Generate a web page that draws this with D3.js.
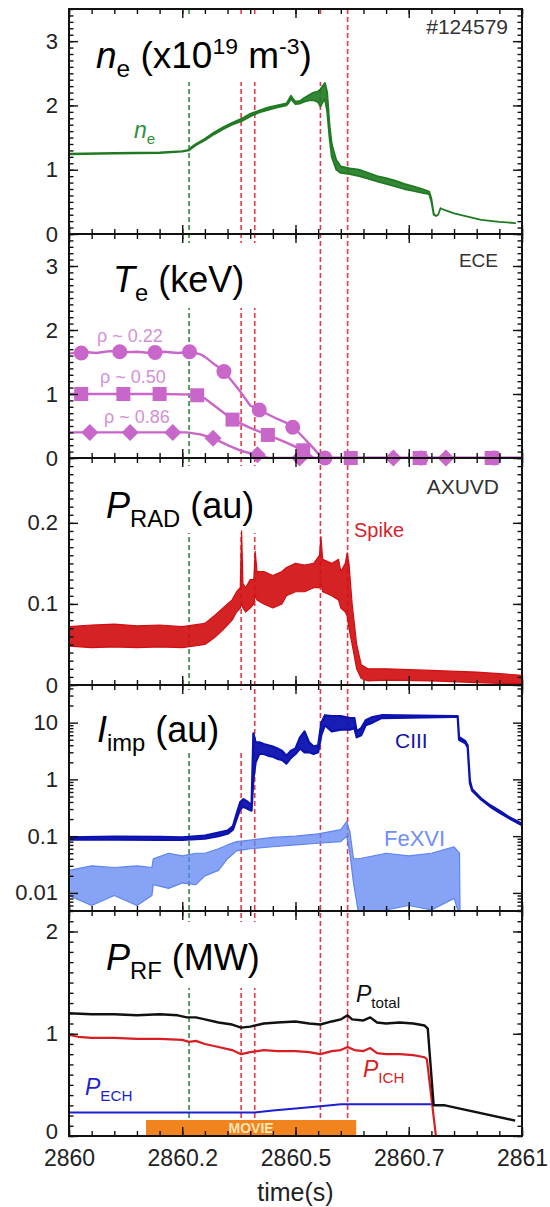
<!DOCTYPE html>
<html><head><meta charset="utf-8">
<script src="https://cdn.jsdelivr.net/npm/d3@7"></script>
<style>
html,body{margin:0;padding:0;background:#fff;}
svg{display:block;font-family:"Liberation Sans",Arial,sans-serif;}
</style>
</head><body>
<svg id="chart" width="550" height="1207"></svg>
<script>
// All time columns are seconds after t0.
const t0 = 2860;
const xTicks = [2860, 2860.25, 2860.5, 2860.75, 2861];
const xTickLabels = ["2860", "2860.2", "2860.5", "2860.7", "2861"];
const shotLabel = "#124579";

// vertical event markers
const eventTimes = [0.265, 0.38, 0.41, 0.555, 0.615];
const eventKinds = ["green", "red", "red", "red", "red"];

// line-averaged density, x10^19 m^-3 : [t, low, high]
const neTrace = [
  [0,1.24,1.25],[0.1,1.25,1.26],[0.2,1.26,1.27],[0.25,1.28,1.29],[0.265,1.3,1.31],
  [0.27,1.33,1.35],[0.28,1.38,1.4],[0.3,1.46,1.48],[0.32,1.55,1.58],[0.34,1.63,1.66],
  [0.36,1.7,1.73],[0.38,1.75,1.79],[0.4,1.83,1.87],[0.42,1.89,1.92],[0.44,1.93,1.97],
  [0.46,1.97,2.0],[0.48,2.0,2.03],[0.485,2.04,2.09],[0.49,2.1,2.15],[0.495,2.06,2.1],
  [0.5,2.02,2.06],[0.51,2.03,2.07],[0.52,2.06,2.12],[0.53,2.08,2.16],[0.54,2.08,2.2],
  [0.55,2.05,2.22],[0.555,1.98,2.25],[0.56,2.05,2.3],[0.565,2.1,2.35],[0.57,1.9,2.2],
  [0.575,1.5,1.7],[0.58,1.2,1.4],[0.59,1.0,1.15],[0.6,0.95,1.05],[0.62,0.93,1.02],
  [0.64,0.9,1.0],[0.66,0.86,0.95],[0.68,0.82,0.9],[0.7,0.78,0.87],[0.72,0.74,0.83],
  [0.74,0.7,0.78],[0.76,0.67,0.74],[0.78,0.64,0.7],[0.795,0.62,0.66],[0.8,0.5,0.55],
  [0.805,0.3,0.32],[0.81,0.28,0.28],[0.815,0.3,0.3],[0.82,0.4,0.4],[0.83,0.37,0.37],
  [0.85,0.32,0.32],[0.88,0.27,0.27],[0.91,0.22,0.22],[0.95,0.19,0.19],[0.985,0.17,0.17]
];

// ECE electron temperature, keV : [t, Te]
const teRho22 = [
  [0,1.63],[0.03,1.66],[0.06,1.64],[0.09,1.67],[0.12,1.65],[0.15,1.66],[0.18,1.64],
  [0.21,1.66],[0.24,1.64],[0.27,1.66],[0.29,1.62],[0.3,1.58],[0.32,1.47],[0.34,1.37],
  [0.36,1.2],[0.38,1.02],[0.39,0.92],[0.4,0.82],[0.42,0.75],[0.44,0.68],[0.46,0.61],
  [0.48,0.55],[0.5,0.45],[0.52,0.3],[0.54,0.15],[0.555,0.03],[0.565,0],[1.0,0]
];
const teRho50 = [
  [0,1.0],[0.1,1.0],[0.2,1.0],[0.28,0.99],[0.3,0.93],[0.33,0.77],[0.361,0.6],
  [0.4,0.47],[0.439,0.36],[0.48,0.24],[0.517,0.12],[0.54,0],[1.0,0]
];
const teRho86 = [
  [0,0.4],[0.1,0.4],[0.2,0.4],[0.26,0.4],[0.29,0.37],[0.318,0.31],[0.35,0.2],
  [0.38,0.11],[0.416,0.05],[0.44,0],[1.0,0]
];
const mkRho22 = [[0.027,1.64],[0.112,1.66],[0.19,1.65],[0.266,1.66],[0.342,1.35],[0.42,0.75],[0.494,0.48],[0.565,0],[0.777,0],[0.938,0]];
const mkRho50 = [[0.027,1.0],[0.12,1.0],[0.2,1.0],[0.283,0.98],[0.361,0.6],[0.439,0.36],[0.517,0.12],[0.622,0],[0.774,0],[0.933,0]];
const mkRho86 = [[0.046,0.4],[0.135,0.4],[0.229,0.4],[0.318,0.31],[0.416,0.05],[0.509,0],[0.716,0],[0.832,0]];

// AXUV radiated power, au : [t, low, high]
const pradTrace = [
  [0,0.048,0.072],[0.05,0.046,0.074],[0.1,0.047,0.075],[0.15,0.046,0.073],[0.2,0.047,0.074],
  [0.25,0.046,0.072],[0.3,0.05,0.076],[0.32,0.058,0.085],[0.34,0.068,0.095],[0.36,0.08,0.105],
  [0.37,0.09,0.115],[0.378,0.095,0.12],[0.381,0.1,0.19],[0.384,0.095,0.125],[0.39,0.09,0.12],
  [0.4,0.095,0.13],[0.408,0.1,0.13],[0.411,0.11,0.165],[0.415,0.105,0.14],[0.43,0.1,0.14],
  [0.45,0.095,0.135],[0.47,0.1,0.14],[0.48,0.11,0.145],[0.5,0.115,0.15],[0.52,0.115,0.148],
  [0.54,0.12,0.15],[0.553,0.12,0.16],[0.556,0.125,0.183],[0.56,0.115,0.155],[0.58,0.11,0.15],
  [0.595,0.105,0.155],[0.6,0.095,0.14],[0.61,0.09,0.15],[0.614,0.085,0.163],[0.618,0.07,0.15],
  [0.625,0.05,0.1],[0.635,0.02,0.05],[0.645,0.008,0.025],[0.66,0.005,0.02],[0.7,0.006,0.02],
  [0.8,0.005,0.018],[0.9,0.003,0.016],[0.95,0.002,0.014],[1.0,0.002,0.012]
];

// impurity line intensities, au : [t, low, high]
const ciiiTrace = [
  [0,0.087,0.095],[0.1,0.087,0.098],[0.2,0.086,0.097],[0.25,0.086,0.095],[0.3,0.09,0.102],
  [0.33,0.1,0.115],[0.35,0.11,0.125],[0.362,0.13,0.15],[0.37,0.2,0.25],[0.378,0.3,0.4],
  [0.385,0.33,0.45],[0.395,0.3,0.4],[0.403,0.28,0.35],[0.407,1.0,6.5],[0.412,2.0,4.5],
  [0.42,2.8,4.5],[0.43,2.8,4.2],[0.44,2.6,4.0],[0.45,2.5,3.8],[0.46,2.3,3.5],
  [0.47,2.2,3.2],[0.48,1.9,2.6],[0.49,2.4,3.2],[0.5,2.8,3.5],[0.51,3.5,5.5],
  [0.52,3.0,7.0],[0.53,3.0,4.5],[0.54,2.8,3.8],[0.55,3.0,4.0],[0.557,6,10],
  [0.565,9,13.5],[0.58,7,13],[0.6,7.5,13],[0.62,7.5,12],[0.63,8,12],[0.635,5.5,7],
  [0.645,6,8],[0.655,9,11],[0.67,10,12.5],[0.69,12,13.5],[0.85,12.6,13],[0.858,12.6,13],
  [0.861,5,5.6],[0.875,4.3,4.7],[0.88,3.7,4],[0.885,0.85,0.95],[0.89,0.63,0.67],[0.91,0.44,0.46],
  [0.93,0.33,0.35],[0.95,0.26,0.28],[0.97,0.21,0.22],[1.0,0.155,0.165]
];
const fexviTrace = [
  [0,0.009,0.025],[0.05,0.006,0.03],[0.1,0.009,0.028],[0.15,0.006,0.03],[0.183,0.009,0.028],
  [0.186,0.014,0.04],[0.22,0.012,0.05],[0.25,0.015,0.045],[0.28,0.014,0.05],[0.3,0.02,0.05],
  [0.33,0.025,0.06],[0.35,0.04,0.07],[0.37,0.055,0.08],[0.4,0.06,0.085],[0.45,0.065,0.095],
  [0.5,0.07,0.1],[0.55,0.075,0.11],[0.6,0.08,0.13],[0.613,0.1,0.18],[0.62,0.05,0.12],
  [0.628,0.015,0.04],[0.64,0.004,0.04],[0.7,0.005,0.05],[0.75,0.006,0.045],[0.8,0.005,0.05],
  [0.85,0.008,0.065],[0.862,0.004,0.05],[0.864,0.001,0.001],[0.9,0.001,0.001]
];

// RF heating power, MW : [t, P]
const pTotal = [
  [0,1.2],[0.05,1.19],[0.1,1.19],[0.15,1.18],[0.2,1.19],[0.24,1.18],[0.26,1.16],[0.28,1.16],
  [0.3,1.14],[0.33,1.11],[0.36,1.09],[0.38,1.06],[0.4,1.07],[0.43,1.1],[0.46,1.11],[0.5,1.12],
  [0.53,1.1],[0.555,1.09],[0.58,1.12],[0.6,1.14],[0.615,1.18],[0.625,1.14],[0.65,1.13],
  [0.665,1.16],[0.68,1.11],[0.7,1.1],[0.73,1.11],[0.76,1.1],[0.785,1.08],[0.792,1.05],
  [0.805,0.3],[0.83,0.3],[0.985,0.15]
];
const pICH = [
  [0,0.99],[0.02,0.97],[0.05,0.96],[0.1,0.96],[0.15,0.95],[0.2,0.95],[0.25,0.94],[0.265,0.92],
  [0.28,0.93],[0.3,0.9],[0.33,0.87],[0.36,0.84],[0.38,0.8],[0.4,0.82],[0.43,0.84],[0.46,0.83],
  [0.5,0.83],[0.53,0.82],[0.555,0.8],[0.58,0.83],[0.6,0.84],[0.615,0.87],[0.63,0.84],
  [0.65,0.83],[0.665,0.86],[0.68,0.81],[0.7,0.8],[0.73,0.8],[0.76,0.79],[0.785,0.77],
  [0.79,0.75],[0.81,0],[0.985,0]
];
const pECH = [
  [0,0.23],[0.41,0.23],[0.45,0.25],[0.5,0.27],[0.555,0.29],[0.6,0.31],[0.615,0.31],[0.805,0.31]
];
const movieWindow = [0.17, 0.634];

// ---------------------------------------------------------------- drawing
const svg = d3.select("#chart");
const X0 = 69, X1 = 522;
const x = d3.scaleLinear().domain([2860, 2861]).range([X0, X1]);
const tx = d => x(t0 + d[0]);

const panels = [
  {top: 9,   bottom: 234},
  {top: 234, bottom: 458},
  {top: 458, bottom: 685},
  {top: 685, bottom: 911},
  {top: 911, bottom: 1136}
];
const yNe   = d3.scaleLinear().domain([0, 3.5]).range([panels[0].bottom, panels[0].top]);
const yTe   = d3.scaleLinear().domain([0, 3.5]).range([panels[1].bottom, panels[1].top]);
const yRad  = d3.scaleLinear().domain([0, 0.28]).range([panels[2].bottom, panels[2].top]);
const yImp  = d3.scaleLog().domain([0.0048, 46]).range([panels[3].bottom, panels[3].top]);
const yRf   = d3.scaleLinear().domain([0, 2.2]).range([panels[4].bottom, panels[4].top]);

const defs = svg.append("defs");
panels.forEach((p, i) => {
  defs.append("clipPath").attr("id", "clip" + i)
    .append("rect").attr("x", X0).attr("y", p.top).attr("width", X1 - X0).attr("height", p.bottom - p.top);
});

// event lines across all panels
const evColor = {green: "#2f8f3a", red: "#e0394b"};
svg.append("g").selectAll("line").data(eventTimes).join("line")
  .attr("x1", d => x(t0 + d)).attr("x2", d => x(t0 + d))
  .attr("y1", panels[0].top).attr("y2", panels[4].bottom)
  .attr("stroke", (d, i) => evColor[eventKinds[i]])
  .attr("stroke-width", 1.6).attr("stroke-dasharray", "5,3");

// white boxes behind the panel titles
const titleBoxes = [
  {x: 75, y: 15,  w: 261, h: 67},
  {x: 75, y: 243, w: 187, h: 65},
  {x: 75, y: 466, w: 187, h: 67},
  {x: 75, y: 690, w: 173, h: 63},
  {x: 75, y: 922, w: 193, h: 66}
];
svg.append("g").selectAll("rect").data(titleBoxes).join("rect")
  .attr("x", d => d.x).attr("y", d => d.y).attr("width", d => d.w).attr("height", d => d.h)
  .attr("fill", "#fff");

function band(i, data, y, color, sw, op) {
  const area = d3.area().x(tx).y0(d => y(d[1])).y1(d => y(d[2]));
  svg.append("path").attr("clip-path", `url(#clip${i})`).attr("d", area(data))
    .attr("fill", color).attr("fill-opacity", op || 1)
    .attr("stroke", color).attr("stroke-width", sw).attr("stroke-linejoin", "round");
}
function trace(i, data, y, color, sw) {
  const line = d3.line().x(tx).y(d => y(d[1]));
  svg.append("path").attr("clip-path", `url(#clip${i})`).attr("d", line(data))
    .attr("fill", "none").attr("stroke", color).attr("stroke-width", sw).attr("stroke-linejoin", "round");
}

// panel 1: density
band(0, neTrace, yNe, "#1f7a22", 1.8, 0.9);

// panel 2: Te
const teColor = "#c966c9";
trace(1, teRho22, yTe, teColor, 2.4);
trace(1, teRho50, yTe, teColor, 2.4);
trace(1, teRho86, yTe, teColor, 2.4);
const gMk = svg.append("g").attr("fill", teColor);
gMk.selectAll("circle").data(mkRho22).join("circle")
  .attr("cx", tx).attr("cy", d => yTe(d[1])).attr("r", 7.5);
gMk.selectAll("rect.sq").data(mkRho50).join("rect").attr("class", "sq")
  .attr("x", d => tx(d) - 7).attr("y", d => yTe(d[1]) - 7).attr("width", 14).attr("height", 14);
gMk.selectAll("path.dm").data(mkRho86).join("path").attr("class", "dm")
  .attr("d", d => { const cx = tx(d), cy = yTe(d[1]), r = 8.5; return `M${cx},${cy - r}L${cx + r},${cy}L${cx},${cy + r}L${cx - r},${cy}Z`; });

// panel 3: radiated power
band(2, pradTrace, yRad, "#d10f12", 1.2, 0.92);

// panel 4: impurity lines
band(3, fexviTrace, yImp, "#5f84f2", 1.2, 0.75);
band(3, ciiiTrace, yImp, "#0c12b0", 2.2, 0.95);

// panel 5: RF power
svg.append("rect").attr("x", x(t0 + movieWindow[0])).attr("y", yRf(0) - 16)
  .attr("width", x(t0 + movieWindow[1]) - x(t0 + movieWindow[0])).attr("height", 16)
  .attr("fill", "#f2841f");
svg.append("text").attr("x", (x(t0 + movieWindow[0]) + x(t0 + movieWindow[1])) / 2).attr("y", yRf(0) - 3)
  .attr("text-anchor", "middle").attr("font-size", 14).attr("font-weight", "bold")
  .attr("fill", "#ffe3b0").text("MOVIE");
trace(4, pECH, yRf, "#1d1fd0", 2);
trace(4, pICH, yRf, "#d81e24", 2.2);
trace(4, pTotal, yRf, "#111", 2.4);

// rich text helper: parts = [text, style] where style in "", "i", "sub", "sup"
function richText(xp, yp, size, color, parts) {
  const t = svg.append("text").attr("x", xp).attr("y", yp).attr("font-size", size).attr("fill", color);
  let shift = 0;
  parts.forEach(([s, st]) => {
    let target = 0, fs = size;
    if (st === "sub") { target = size * 0.24; fs = size * 0.66; }
    if (st === "sup") { target = -size * 0.38; fs = size * 0.62; }
    const span = t.append("tspan").attr("dy", target - shift).attr("font-size", fs).text(s);
    if (st === "i") span.attr("font-style", "italic");
    shift = target;
  });
  return t;
}

// panel titles
richText(96, 68, 37, "#000", [["n", "i"], ["e", "sub"], [" (x10", ""], ["19", "sup"], [" m", ""], ["-3", "sup"], [")", ""]]);
richText(113, 292, 36, "#000", [["T", "i"], ["e", "sub"], [" (keV)", ""]]);
richText(106, 518, 36, "#000", [["P", "i"], ["RAD", "sub"], [" (au)", ""]]);
richText(97, 742, 36, "#000", [["I", "i"], ["imp", "sub"], [" (au)", ""]]);
richText(106, 970, 36, "#000", [["P", "i"], ["RF", "sub"], [" (MW)", ""]]);

// annotations
const ann = (xp, yp, size, color, txt, anchor) => svg.append("text").attr("x", xp).attr("y", yp)
  .attr("font-size", size).attr("fill", color).attr("text-anchor", anchor || "start").text(txt);
ann(508, 34, 21, "#333", shotLabel, "end");
ann(498, 267, 19, "#333", "ECE", "end");
ann(499, 494, 21, "#333", "AXUVD", "end");
ann(354, 537, 20, "#d81e2e", "Spike");
ann(395, 748, 21, "#1515a8", "CIII");
ann(384, 846, 22, "#6f8ff5", "FeXVI");
richText(134, 138, 23, "#2f8f3a", [["n", "i"], ["e", "sub"]]);
ann(97, 342, 18, "#d58fd5", "ρ ~ 0.22");
ann(100, 383, 18, "#d58fd5", "ρ ~ 0.50");
ann(104, 423, 18, "#d58fd5", "ρ ~ 0.86");
richText(356, 1002, 23, "#111", [["P", "i"], ["total", "sub"]]);
richText(363, 1077, 23, "#d81e24", [["P", "i"], ["ICH", "sub"]]);
richText(85, 1095, 23, "#1d1fd0", [["P", "i"], ["ECH", "sub"]]);

// frames and ticks
const xMinor = d3.range(0, 1.0001, 0.05).map(d => t0 + d);
function styleAxis(g) {
  g.select(".domain").remove();
  g.selectAll("line").attr("stroke", "#111").attr("stroke-width", 1.4);
  g.selectAll("text").attr("font-size", 22).attr("fill", "#222").attr("font-family", "Liberation Sans, Arial, sans-serif");
}
function frame(i, y, majors, fmt, minors) {
  const p = panels[i];
  const g = svg.append("g");
  g.append("g").attr("transform", `translate(${X0},0)`)
    .call(d3.axisLeft(y).tickValues(minors).tickSize(-4.5).tickFormat("")).call(styleAxis);
  const gl = g.append("g").attr("transform", `translate(${X0},0)`)
    .call(d3.axisLeft(y).tickValues(majors).tickSize(-9).tickPadding(11).tickFormat(fmt)).call(styleAxis);
  // keep the lowest label of the bottom panel clear of the time labels
  if (i === panels.length - 1) gl.selectAll("text").filter(d => d === 0).attr("dy", "0.1em");
  g.append("g").attr("transform", `translate(${X1},0)`)
    .call(d3.axisRight(y).tickValues(minors).tickSize(-4.5).tickFormat("")).call(styleAxis);
  g.append("g").attr("transform", `translate(${X1},0)`)
    .call(d3.axisRight(y).tickValues(majors).tickSize(-9).tickFormat("")).call(styleAxis);
  [[p.top, d3.axisTop], [p.bottom, d3.axisBottom]].forEach(([yy, ax]) => {
    g.append("g").attr("transform", `translate(0,${yy})`)
      .call(ax(x).tickValues(xMinor).tickSize(-5).tickFormat("")).call(styleAxis);
    g.append("g").attr("transform", `translate(0,${yy})`)
      .call(ax(x).tickValues(xTicks).tickSize(-9).tickFormat("")).call(styleAxis);
  });
  g.append("rect").attr("x", X0).attr("y", p.top).attr("width", X1 - X0).attr("height", p.bottom - p.top)
    .attr("fill", "none").attr("stroke", "#111").attr("stroke-width", 2);
}
const r = (a, b, s) => d3.range(a, b + s / 2, s).map(v => +v.toFixed(4));
frame(0, yNe, [0, 1, 2, 3], d3.format("d"), r(0, 3.5, 0.1));
frame(1, yTe, [0, 1, 2, 3], d3.format("d"), r(0, 3.5, 0.1));
frame(2, yRad, [0, 0.1, 0.2], d => d === 0 ? "0" : d3.format(".1f")(d), r(0, 0.28, 0.01));
const logMinor = [];
[0.001, 0.01, 0.1, 1, 10].forEach(dec => { for (let k = 2; k <= 9; k++) { const v = +(dec * k).toPrecision(3); if (v >= 0.0048 && v <= 46) logMinor.push(v); } });
frame(3, yImp, [0.01, 0.1, 1, 10], d => String(d), logMinor);
frame(4, yRf, [0, 1, 2], d3.format("d"), r(0, 2.2, 0.1));

// time axis labels
const gx = svg.append("g").attr("transform", `translate(0,${panels[4].bottom})`)
  .call(d3.axisBottom(x).tickValues(xTicks).tickSize(0).tickPadding(14).tickFormat((d, i) => xTickLabels[i]));
gx.select(".domain").remove();
gx.selectAll("text").attr("font-size", 23).attr("fill", "#222").attr("font-family", "Liberation Sans, Arial, sans-serif");
ann((X0 + X1) / 2, 1201, 25, "#222", "time(s)", "middle");
</script>
</body></html>
